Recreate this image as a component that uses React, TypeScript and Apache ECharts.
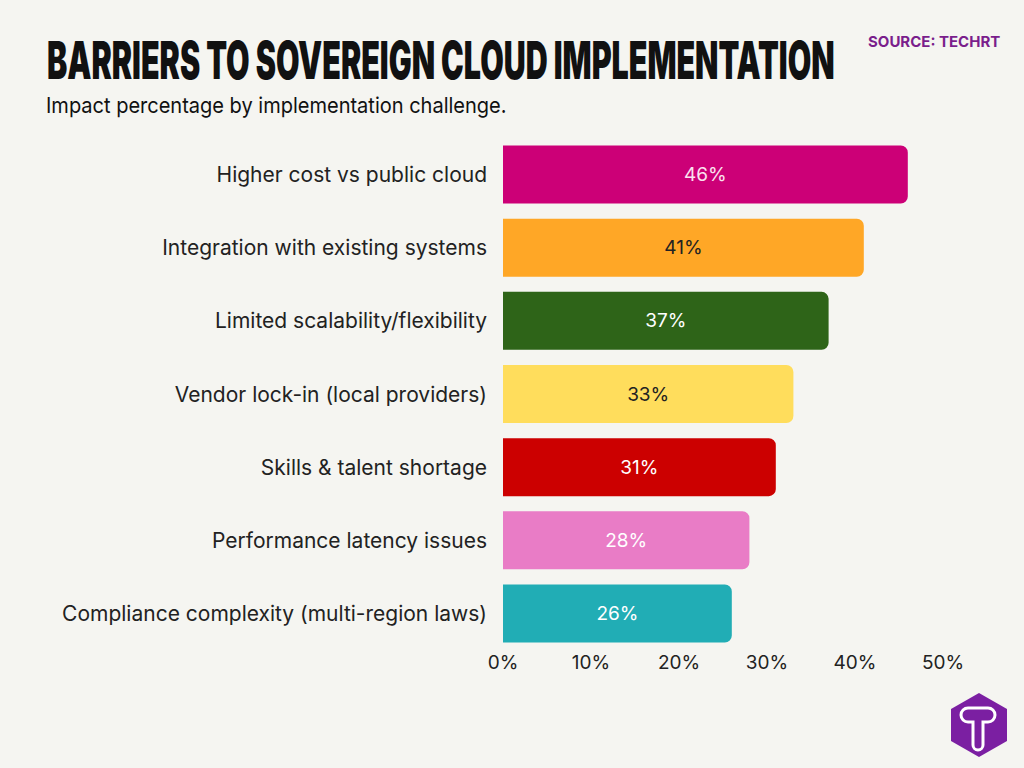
import React, { useEffect, useRef } from "react";
import * as echarts from "echarts";

const categories = [
  "Higher cost vs public cloud",
  "Integration with existing systems",
  "Limited scalability/flexibility",
  "Vendor lock-in (local providers)",
  "Skills & talent shortage",
  "Performance latency issues",
  "Compliance complexity (multi-region laws)",
];
const values = [46, 41, 37, 33, 31, 28, 26];
const barColors = ["#cc0077", "#ffa726", "#2e6418", "#ffdd5c", "#cc0000", "#e97cc6", "#21adb5"];
const labelColors = ["#fbe3f0", "#222222", "#ffffff", "#222222", "#ffffff", "#ffffff", "#ffffff"];
const xTicks = [0, 10, 20, 30, 40, 50];

const hexPoints = [
  [979, 693], [1007, 709], [1007, 741], [979, 757], [951, 741], [951, 709],
];

echarts.graphic.registerShape(
  "tlogo",
  echarts.graphic.extendPath(
    "M -10 -21 L 10 -21 A 7 7 0 0 1 10 -7 L 5 -7 L 5 16 A 5 5 0 0 1 -5 16 L -5 -7 L -10 -7 A 7 7 0 0 1 -10 -21 Z",
    {}
  ) as any
);

export default function App() {
  const ref = useRef<HTMLDivElement>(null);
  useEffect(() => {
    document.body.style.margin = "0";
    const chart = echarts.init(ref.current!, null, { renderer: "svg" });
    chart.setOption({
      animation: false,
      backgroundColor: "#f5f5f1",
      grid: { left: 503, right: 81, top: 138, height: 512, containLabel: false },
      xAxis: {
        type: "value",
        min: 0,
        max: 50,
        interval: 10,
        splitLine: { show: false },
        axisLine: { show: false },
        axisTick: { show: false },
        axisLabel: {
          formatter: (v: number) => (xTicks.includes(v) ? v + "%" : ""),
          color: "#222",
          fontFamily: "Inter",
          fontSize: 19,
          margin: 3,
        },
      },
      yAxis: {
        type: "category",
        inverse: true,
        data: categories,
        axisLine: { show: false },
        axisTick: { show: false },
        axisLabel: {
          color: "#222",
          fontFamily: "Inter",
          fontSize: 21,
          margin: 16,
        },
      },
      series: [
        {
          type: "bar",
          barWidth: 58,
          data: values.map((v, i) => ({
            value: v,
            itemStyle: { color: barColors[i], borderRadius: [0, 7, 7, 0] },
            label: { color: labelColors[i] },
          })),
          label: {
            show: true,
            position: "inside",
            formatter: "{c}%",
            fontFamily: "Inter",
            fontSize: 19,
          },
        },
      ],
      graphic: [
        {
          type: "text",
          x: 47,
          y: 60,
          scaleX: 0.585,
          style: {
            text: "BARRIERS TO SOVEREIGN CLOUD IMPLEMENTATION",
            font: "900 52px Inter, sans-serif",
            fill: "#111",
            textAlign: "left",
            textVerticalAlign: "middle",
          },
        },
        {
          type: "text",
          x: 46,
          y: 105,
          scaleX: 0.91,
          style: {
            text: "Impact percentage by implementation challenge.",
            font: "22px Inter, sans-serif",
            fill: "#111",
            textAlign: "left",
            textVerticalAlign: "middle",
          },
        },
        {
          type: "text",
          left: 868,
          top: 34,
          style: {
            text: "SOURCE: TECHRT",
            font: "bold 15px Inter, sans-serif",
            fill: "#7a1e8c",
          },
        },
        {
          type: "polygon",
          shape: { points: hexPoints },
          style: { fill: "#7b1fa2" },
        },
        {
          type: "tlogo",
          x: 978,
          y: 729,
          style: { fill: "none", stroke: "#ffffff", lineWidth: 3 },
        },
      ],
    });
    return () => chart.dispose();
  }, []);
  return <div ref={ref} style={{ width: 1024, height: 768 }} />;
}
